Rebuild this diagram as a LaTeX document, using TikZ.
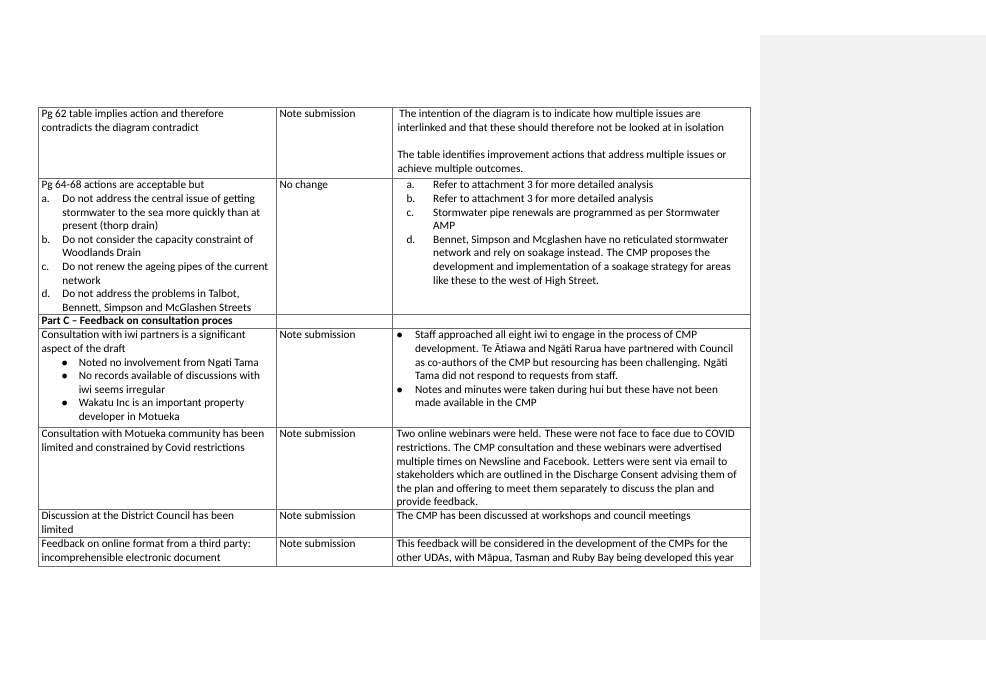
\documentclass[tikz,border=0pt]{standalone}
\usepackage{fontspec}
\setmainfont{Carlito}
\newcommand{\lbl}[2]{\makebox[#1][l]{#2}}
\tikzset{every picture/.style={line width=0.75pt}}
\tikzset{cell/.style={anchor=north west,inner sep=0pt,align=left,font=\fontsize{8.45}{10.2}\selectfont},
  rule/.style={draw={rgb,255:red,110;green,110;blue,110},line width=0.6pt}}

\begin{document}
\begin{tikzpicture}[x=0.75pt,y=0.75pt,yscale=-1,xscale=1]
\useasboundingbox (0,0) rectangle (986,675);
%Comment panel
\fill [fill={rgb, 255:red, 242; green, 242; blue, 242 }] (760,35) rectangle (986,640);

%Table frame
\draw [rule] (38,107) rectangle (750,566);
\draw [rule] (276,107) -- (276,566);
\draw [rule] (392,107) -- (392,566);
\foreach \yy in {178,314,328,427,509,537}
  \draw [rule] (38,\yy) -- (750,\yy);

% Row 1
\node [cell] (issA) at (41,109.5) {Pg 62 table implies action and therefore\\contradicts the diagram contradict};
\node [cell] (actA) at (279,109.5) {Note submission};
\node [cell] (rspA) at (397,109.5) {\,The intention of the diagram is to indicate how multiple issues are\\interlinked and that these should therefore not be looked at in isolation\\[10.2pt]The table identifies improvement actions that address multiple issues or\\achieve multiple outcomes.};

% Row 2
\node [cell] (issB) at (41,180.5) {Pg 64-68 actions are acceptable but\\
\lbl{15.7pt}{a.}Do not address the central issue of getting\\
\hspace*{15.7pt}stormwater to the sea more quickly than at\\
\hspace*{15.7pt}present (thorp drain)\\
\lbl{15.7pt}{b.}Do not consider the capacity constraint of\\
\hspace*{15.7pt}Woodlands Drain\\
\lbl{15.7pt}{c.}Do not renew the ageing pipes of the current\\
\hspace*{15.7pt}network\\
\lbl{15.7pt}{d.}Do not address the problems in Talbot,\\
\hspace*{15.7pt}Bennett, Simpson and McGlashen Streets};
\node [cell] (actB) at (279,180.5) {No change};
\node [cell] (rspB) at (406,180.5) {\lbl{20pt}{a.}Refer to attachment 3 for more detailed analysis\\
\lbl{20pt}{b.}Refer to attachment 3 for more detailed analysis\\
\lbl{20pt}{c.}Stormwater pipe renewals are programmed as per Stormwater\\
\hspace*{20pt}AMP\\
\lbl{20pt}{d.}Bennet, Simpson and Mcglashen have no reticulated stormwater\\
\hspace*{20pt}network and rely on soakage instead. The CMP proposes the\\
\hspace*{20pt}development and implementation of a soakage strategy for areas\\
\hspace*{20pt}like these to the west of High Street.};

% Row 3
\node [cell,font=\fontsize{8.45}{10.2}\selectfont\bfseries] (partC) at (41,316.5) {Part C -- Feedback on consultation proces};

% Row 4
\node [cell] (issD) at (41,330.5) {Consultation with iwi partners is a significant\\
aspect of the draft\\
\hspace*{15pt}\lbl{13pt}{\small$\bullet$}Noted no involvement from Ngati Tama\\
\hspace*{15pt}\lbl{13pt}{\small$\bullet$}No records available of discussions with\\
\hspace*{28pt}iwi seems irregular\\
\hspace*{15pt}\lbl{13pt}{\small$\bullet$}Wakatu Inc is an important property\\
\hspace*{28pt}developer in Motueka};
\node [cell] (actD) at (279,330.5) {Note submission};
\node [cell] (rspD) at (396,330.5) {\lbl{14pt}{\small$\bullet$}Staff approached all eight iwi to engage in the process of CMP\\
\hspace*{14pt}development. Te Ātiawa and Ngāti Rarua have partnered with Council\\
\hspace*{14pt}as co-authors of the CMP but resourcing has been challenging. Ngāti\\
\hspace*{14pt}Tama did not respond to requests from staff.\\
\lbl{14pt}{\small$\bullet$}Notes and minutes were taken during hui but these have not been\\
\hspace*{14pt}made available in the CMP};

% Row 5
\node [cell] (issE) at (41,429.5) {Consultation with Motueka community has been\\limited and constrained by Covid restrictions};
\node [cell] (actE) at (279,429.5) {Note submission};
\node [cell] (rspE) at (396,429.5) {Two online webinars were held. These were not face to face due to COVID\\
restrictions. The CMP consultation and these webinars were advertised\\
multiple times on Newsline and Facebook. Letters were sent via email to\\
stakeholders which are outlined in the Discharge Consent advising them of\\
the plan and offering to meet them separately to discuss the plan and\\
provide feedback.};

% Row 6
\node [cell] (issF) at (41,511.5) {Discussion at the District Council has been\\limited};
\node [cell] (actF) at (279,511.5) {Note submission};
\node [cell] (rspF) at (396,511.5) {The CMP has been discussed at workshops and council meetings};

% Row 7
\node [cell] (issG) at (41,539.5) {Feedback on online format from a third party:\\incomprehensible electronic document};
\node [cell] (actG) at (279,539.5) {Note submission};
\node [cell] (rspG) at (396,539.5) {This feedback will be considered in the development of the CMPs for the\\other UDAs, with Māpua, Tasman and Ruby Bay being developed this year};

\end{tikzpicture}
\end{document}
